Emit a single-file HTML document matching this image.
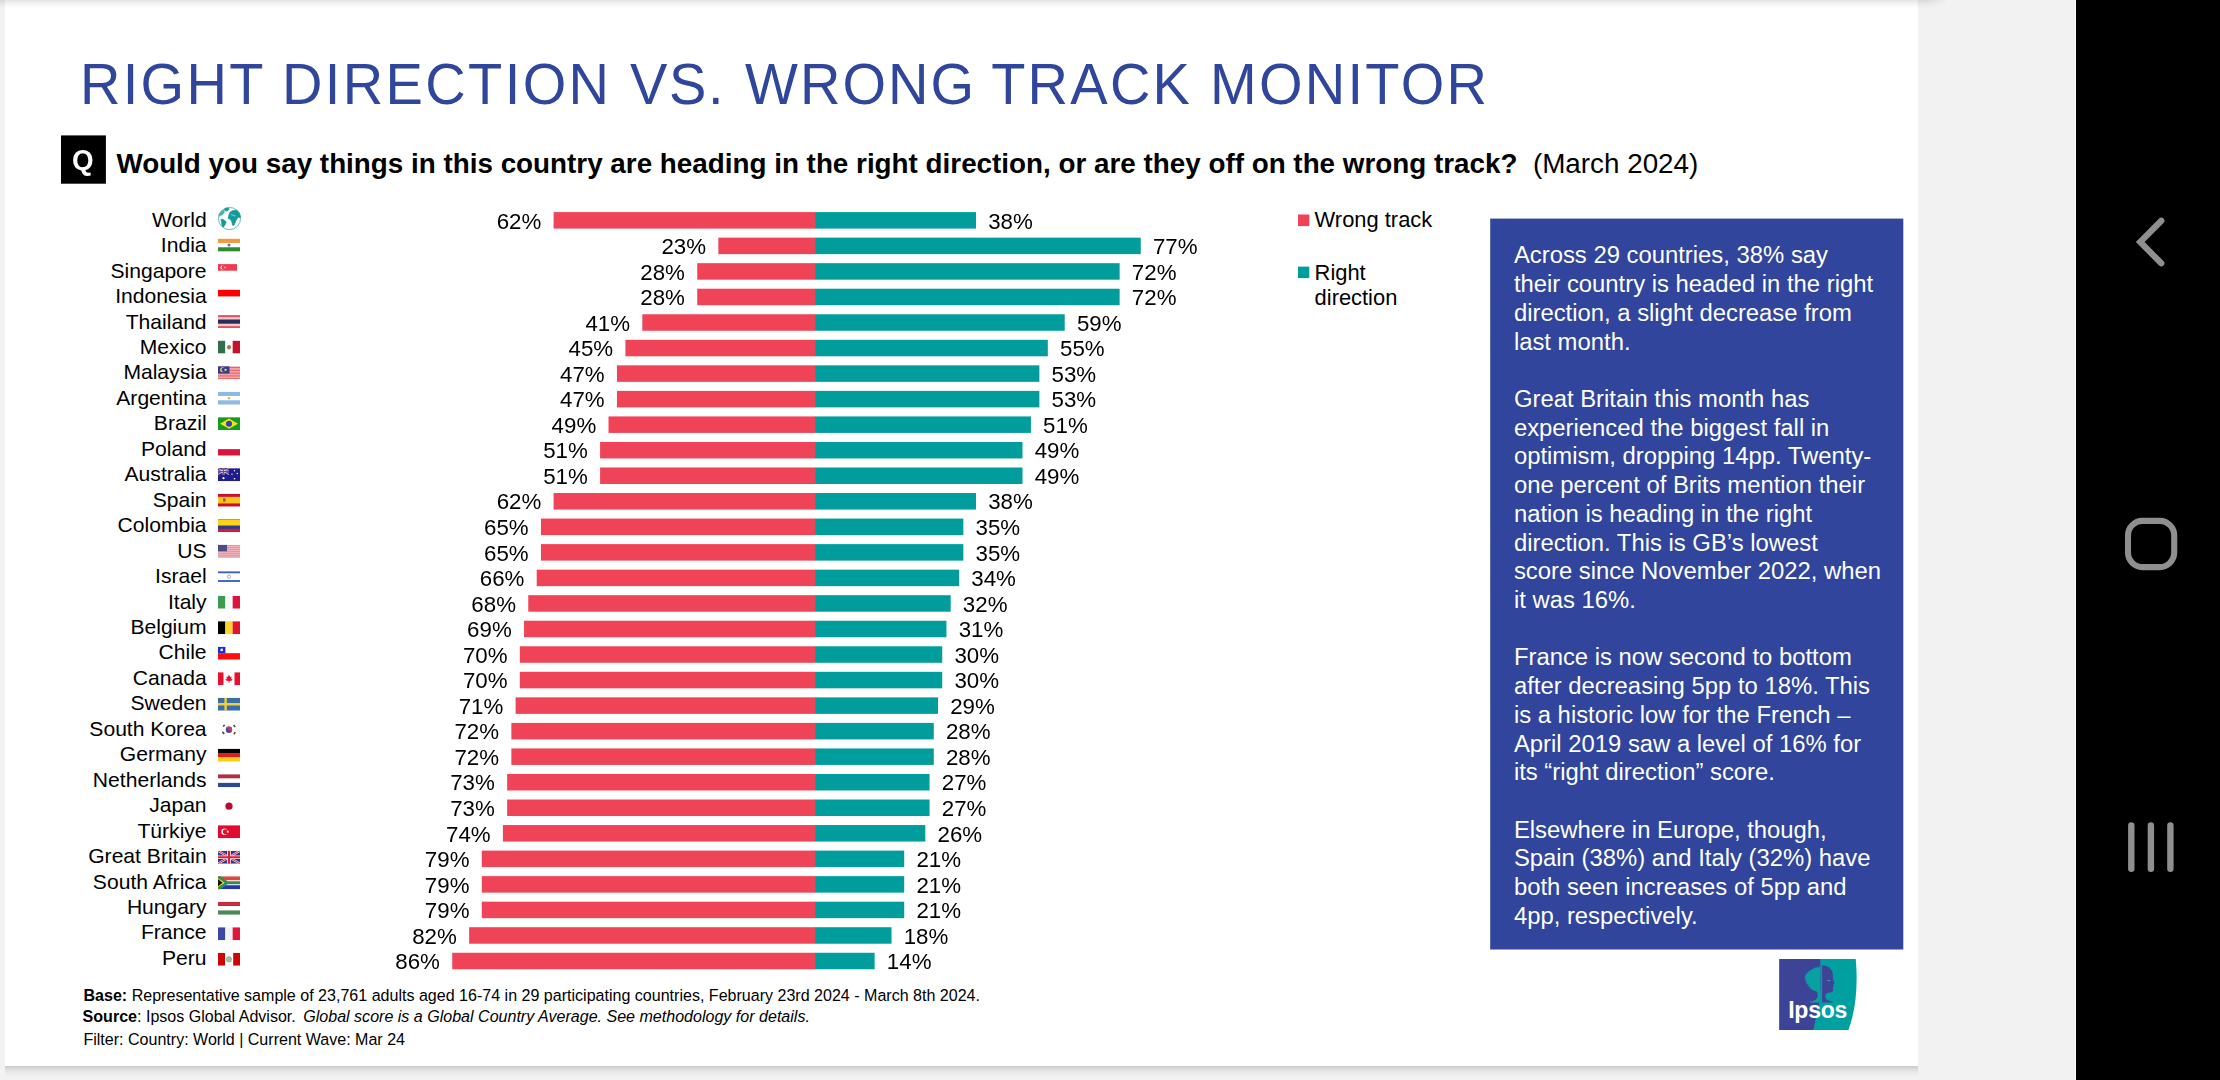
<!DOCTYPE html>
<html lang="en">
<head>
<meta charset="utf-8">
<title>Right Direction vs. Wrong Track Monitor</title>
<style>
html,body{margin:0;padding:0}
body{width:2220px;height:1080px;position:relative;overflow:hidden;background:#f2f2f2;font-family:"Liberation Sans",Arial,sans-serif;color:#000}
.page{position:absolute;left:5px;top:0;width:1913px;height:1066px;background:#fff}
.botsh{position:absolute;left:5px;top:1066px;width:1913px;height:11px;background:linear-gradient(#cacaca,#d6d6d6 18%,#e2e2e2 40%,#ececec 68%,#f2f2f2)}
.topsh{position:absolute;left:0;top:0;width:1950px;height:10px;background:linear-gradient(rgba(0,0,0,.105),rgba(0,0,0,.045) 35%,rgba(0,0,0,.012) 70%,rgba(0,0,0,0));-webkit-mask-image:linear-gradient(to right,#000 0,#000 1926px,transparent 1948px);mask-image:linear-gradient(to right,#000 0,#000 1926px,transparent 1948px)}
.navbar{position:absolute;left:2076px;top:0;width:144px;height:1080px;background:#000;box-shadow:-1px 0 0 #fff}
.nav{position:absolute;left:0;top:0}
.t{position:absolute;white-space:nowrap;margin:0}
.title{position:absolute;left:0;margin:0;width:1900px;height:67px;font-size:56px;line-height:67px;font-weight:400;color:#2f469c;white-space:nowrap}
.title span{position:absolute;top:0}
.qq{color:#fff;font-weight:700}
.bars{position:absolute;left:0;top:0}
.w{fill:#ef4357}
.r{fill:#009d9c}
.fl{position:absolute;display:block}
.panel{position:absolute;left:1490px;top:219px;width:413px;height:731px}
.ptxt{position:absolute;left:23.9px;color:#fff;white-space:nowrap}
.ptxt p{margin:0 0 28.72px 0}
.logo{position:absolute;left:1779px;top:958.8px}
</style>
</head>
<body>
<div class="page"></div>
<div class="botsh"></div>
<div class="topsh"></div>
<h1 class="title" style="top:51.40px;transform:scaleY(1.04);transform-origin:0 52.90px"><span style="left:79.88px;letter-spacing:2.33px">RIGHT</span> <span style="left:281.98px;letter-spacing:2.38px">DIRECTION</span> <span style="left:630.02px;letter-spacing:1.66px">VS.</span> <span style="left:745.12px;letter-spacing:2.0px">WRONG</span> <span style="left:991.14px;letter-spacing:2.25px">TRACK</span> <span style="left:1209.98px;letter-spacing:2.28px">MONITOR</span></h1>
<svg class="bars" width="2076" height="1080" viewBox="0 0 2076 1080">
<rect class="w" x="553.61" y="212.10" width="262.49" height="16.5"/><rect class="r" x="815.50" y="212.10" width="160.51" height="16.5"/>
<rect class="w" x="718.35" y="237.64" width="97.75" height="16.5"/><rect class="r" x="815.50" y="237.64" width="325.25" height="16.5"/>
<rect class="w" x="697.23" y="263.18" width="118.87" height="16.5"/><rect class="r" x="815.50" y="263.18" width="304.13" height="16.5"/>
<rect class="w" x="697.23" y="288.72" width="118.87" height="16.5"/><rect class="r" x="815.50" y="288.72" width="304.13" height="16.5"/>
<rect class="w" x="642.32" y="314.26" width="173.78" height="16.5"/><rect class="r" x="815.50" y="314.26" width="249.22" height="16.5"/>
<rect class="w" x="625.42" y="339.80" width="190.68" height="16.5"/><rect class="r" x="815.50" y="339.80" width="232.32" height="16.5"/>
<rect class="w" x="616.97" y="365.34" width="199.13" height="16.5"/><rect class="r" x="815.50" y="365.34" width="223.87" height="16.5"/>
<rect class="w" x="616.97" y="390.88" width="199.13" height="16.5"/><rect class="r" x="815.50" y="390.88" width="223.87" height="16.5"/>
<rect class="w" x="608.52" y="416.42" width="207.58" height="16.5"/><rect class="r" x="815.50" y="416.42" width="215.42" height="16.5"/>
<rect class="w" x="600.08" y="441.96" width="216.02" height="16.5"/><rect class="r" x="815.50" y="441.96" width="206.98" height="16.5"/>
<rect class="w" x="600.08" y="467.50" width="216.02" height="16.5"/><rect class="r" x="815.50" y="467.50" width="206.98" height="16.5"/>
<rect class="w" x="553.61" y="493.04" width="262.49" height="16.5"/><rect class="r" x="815.50" y="493.04" width="160.51" height="16.5"/>
<rect class="w" x="540.94" y="518.58" width="275.16" height="16.5"/><rect class="r" x="815.50" y="518.58" width="147.84" height="16.5"/>
<rect class="w" x="540.94" y="544.12" width="275.16" height="16.5"/><rect class="r" x="815.50" y="544.12" width="147.84" height="16.5"/>
<rect class="w" x="536.72" y="569.66" width="279.38" height="16.5"/><rect class="r" x="815.50" y="569.66" width="143.62" height="16.5"/>
<rect class="w" x="528.27" y="595.20" width="287.83" height="16.5"/><rect class="r" x="815.50" y="595.20" width="135.17" height="16.5"/>
<rect class="w" x="524.04" y="620.74" width="292.06" height="16.5"/><rect class="r" x="815.50" y="620.74" width="130.94" height="16.5"/>
<rect class="w" x="519.82" y="646.28" width="296.28" height="16.5"/><rect class="r" x="815.50" y="646.28" width="126.72" height="16.5"/>
<rect class="w" x="519.82" y="671.82" width="296.28" height="16.5"/><rect class="r" x="815.50" y="671.82" width="126.72" height="16.5"/>
<rect class="w" x="515.60" y="697.36" width="300.50" height="16.5"/><rect class="r" x="815.50" y="697.36" width="122.50" height="16.5"/>
<rect class="w" x="511.37" y="722.90" width="304.73" height="16.5"/><rect class="r" x="815.50" y="722.90" width="118.27" height="16.5"/>
<rect class="w" x="511.37" y="748.44" width="304.73" height="16.5"/><rect class="r" x="815.50" y="748.44" width="118.27" height="16.5"/>
<rect class="w" x="507.15" y="773.98" width="308.95" height="16.5"/><rect class="r" x="815.50" y="773.98" width="114.05" height="16.5"/>
<rect class="w" x="507.15" y="799.52" width="308.95" height="16.5"/><rect class="r" x="815.50" y="799.52" width="114.05" height="16.5"/>
<rect class="w" x="502.92" y="825.06" width="313.18" height="16.5"/><rect class="r" x="815.50" y="825.06" width="109.82" height="16.5"/>
<rect class="w" x="481.80" y="850.60" width="334.30" height="16.5"/><rect class="r" x="815.50" y="850.60" width="88.70" height="16.5"/>
<rect class="w" x="481.80" y="876.14" width="334.30" height="16.5"/><rect class="r" x="815.50" y="876.14" width="88.70" height="16.5"/>
<rect class="w" x="481.80" y="901.68" width="334.30" height="16.5"/><rect class="r" x="815.50" y="901.68" width="88.70" height="16.5"/>
<rect class="w" x="469.13" y="927.22" width="346.97" height="16.5"/><rect class="r" x="815.50" y="927.22" width="76.03" height="16.5"/>
<rect class="w" x="452.24" y="952.76" width="363.86" height="16.5"/><rect class="r" x="815.50" y="952.76" width="59.14" height="16.5"/>
<rect x="1490.2" y="218.6" width="413.1" height="730.9" fill="#30459b"/><rect x="61" y="135.4" width="44.9" height="48.3" fill="#000"/><rect class="w" x="1298" y="214.5" width="11.3" height="11.6"/><rect class="r" x="1298" y="266.6" width="11.3" height="11.5"/>
<svg x="210" y="200" width="40" height="40" viewBox="0 0 40 40"><circle cx="19.5" cy="18.5" r="11.1" fill="#fff" stroke="#5fb3b1" stroke-width="0.9"/><g fill="#139b99" stroke="#139b99" stroke-width="0.7" stroke-linejoin="round"><path d="M14.4 9.3L16.3 8.1L19.2 8.4L18.1 10.4L16.3 11.1L14.8 10.6Z"/><path d="M10.9 19.4L13 19.3L16.2 21.9L15.5 24.1L13.3 27.2L12 25.8L11.6 22.2Z"/><path d="M20 12.2L23 10.5L26.6 10.3L29.2 12.6L30.5 17.2L29.6 17.7L28.1 17L25.9 20.7L24.1 25.1L22.7 25.5L21.9 22.2L20.7 19.6L18.2 18.5L18.6 15.9Z"/></g><path d="M9.4 16.2L9 14.8L10.7 11.9L13.7 10.1L14.3 12.2L12.6 14.4L10.7 15.6Z" fill="#44b1af" stroke="#44b1af" stroke-width="0.7" stroke-linejoin="round"/><path d="M21.5 14.6L25 15.8" stroke="#5fc9c6" stroke-width="1.3" stroke-linecap="round" fill="none"/></svg>
<svg x="218" y="238.60" width="22" height="13" viewBox="0 0 22 13" preserveAspectRatio="none"><rect x="0" y="0.000" width="22" height="4.383" fill="#f09a40"/><rect x="0" y="4.333" width="22" height="4.383" fill="#ffffff"/><rect x="0" y="8.667" width="22" height="4.383" fill="#2e8b2e"/><circle cx="11" cy="6.5" r="1.5" fill="#6a6fc0"/></svg>
<svg x="218" y="264.11" width="22" height="13" viewBox="0 0 22 13" preserveAspectRatio="none"><rect width="19" height="6.6" fill="#ef3b4e"/><circle cx="4.4" cy="3.3" r="2" fill="#fff"/><circle cx="5.3" cy="3.3" r="1.8" fill="#ef3b4e"/><circle cx="7" cy="3.3" r="1" fill="#f7a3ad"/></svg>
<svg x="218" y="289.62" width="22" height="13" viewBox="0 0 22 13" preserveAspectRatio="none"><rect width="22" height="6.8" fill="#ff0000"/></svg>
<svg x="218" y="315.12" width="22" height="13" viewBox="0 0 22 13" preserveAspectRatio="none"><rect width="22" height="13" fill="#e5525c"/><rect y="2" width="22" height="9" fill="#f6c9cd"/><rect y="4.4" width="22" height="4.2" fill="#2b2a5c"/></svg>
<svg x="218" y="340.62" width="22" height="13" viewBox="0 0 22 13" preserveAspectRatio="none"><rect x="0.000" y="0" width="7.383" height="13" fill="#2f6f4c"/><rect x="7.333" y="0" width="7.383" height="13" fill="#ffffff"/><rect x="14.667" y="0" width="7.383" height="13" fill="#c4122f"/><ellipse cx="11" cy="6.6" rx="2" ry="2.3" fill="#9b7a4a"/></svg>
<svg x="218" y="366.13" width="22" height="13" viewBox="0 0 22 13" preserveAspectRatio="none"><rect width="22" height="13" fill="#f3a6a8"/><path d="M0 1.4H22M0 4.2H22M0 7H22M0 9.8H22M0 12.5H22" stroke="#e9606a" stroke-width="1"/><rect width="11.5" height="7.4" fill="#2f3c8f"/><circle cx="4.6" cy="3.7" r="2.5" fill="#f6d23a"/><circle cx="5.6" cy="3.7" r="2.1" fill="#2f3c8f"/><circle cx="7.6" cy="3.7" r="1.2" fill="#f6d23a"/></svg>
<svg x="218" y="391.63" width="22" height="13" viewBox="0 0 22 13" preserveAspectRatio="none"><rect x="0" y="0.000" width="22" height="4.383" fill="#8db9e6"/><rect x="0" y="4.333" width="22" height="4.383" fill="#ffffff"/><rect x="0" y="8.667" width="22" height="4.383" fill="#8db9e6"/><circle cx="11" cy="6.5" r="1.2" fill="#e8b04a"/></svg>
<svg x="218" y="417.14" width="22" height="13" viewBox="0 0 22 13" preserveAspectRatio="none"><rect width="22" height="13" fill="#169b1e"/><path d="M11 1.4L20 6.5L11 11.6L2 6.5Z" fill="#f8e016"/><circle cx="11" cy="6.5" r="3" fill="#2b3fc0"/></svg>
<svg x="218" y="442.64" width="22" height="13" viewBox="0 0 22 13" preserveAspectRatio="none"><rect y="6.5" width="22" height="6.5" fill="#dc143c"/></svg>
<svg x="218" y="468.15" width="22" height="13" viewBox="0 0 22 13" preserveAspectRatio="none"><rect width="22" height="13" fill="#1d1d8f"/><g transform="scale(0.5)"><rect width="22" height="13" fill="#1d1d8f"/><path d="M0 0L22 13M22 0L0 13" stroke="#f3e6ee" stroke-width="2.1"/><path d="M0 0L22 13M22 0L0 13" stroke="#d8213a" stroke-width="1"/><path d="M11 0V13M0 6.5H22" stroke="#f6eaf0" stroke-width="3.7"/><path d="M11 0V13M0 6.5H22" stroke="#d8213a" stroke-width="2.1"/></g><circle cx="5.5" cy="10" r="1.1" fill="#fff"/><circle cx="16.5" cy="2.6" r=".7" fill="#fff"/><circle cx="19.3" cy="5.4" r=".7" fill="#fff"/><circle cx="14" cy="6" r=".7" fill="#fff"/><circle cx="16.5" cy="10.6" r=".8" fill="#fff"/></svg>
<svg x="218" y="493.65" width="22" height="13" viewBox="0 0 22 13" preserveAspectRatio="none"><rect width="22" height="13" fill="#c8102e"/><rect y="3.2" width="22" height="6.6" fill="#fcc419"/><rect x="5" y="4.6" width="2.6" height="3.6" rx=".8" fill="#9a5b3a"/></svg>
<svg x="218" y="519.16" width="22" height="13" viewBox="0 0 22 13" preserveAspectRatio="none"><rect width="22" height="13" fill="#c8213a"/><rect width="22" height="9.6" fill="#2a3a8c"/><rect width="22" height="6.4" fill="#fcd116"/></svg>
<svg x="218" y="544.66" width="22" height="13" viewBox="0 0 22 13" preserveAspectRatio="none"><rect width="22" height="13" fill="#f1b9bf"/><path d="M0 1H22M0 3H22M0 5H22M0 7H22M0 9H22M0 11H22M0 12.6H22" stroke="#e68a96" stroke-width=".9"/><rect width="9" height="6.6" fill="#4a4c86"/></svg>
<svg x="218" y="570.17" width="22" height="13" viewBox="0 0 22 13" preserveAspectRatio="none"><rect width="22" height="13" fill="#fff"/><rect y="1.2" width="22" height="1.9" fill="#3a62c8"/><rect y="9.9" width="22" height="1.9" fill="#3a62c8"/><circle cx="11" cy="6.5" r="1.6" fill="none" stroke="#7d9be0" stroke-width=".8"/></svg>
<svg x="218" y="595.67" width="22" height="13" viewBox="0 0 22 13" preserveAspectRatio="none"><rect x="0.000" y="0" width="7.383" height="13" fill="#3c9b4e"/><rect x="7.333" y="0" width="7.383" height="13" fill="#f7f7f7"/><rect x="14.667" y="0" width="7.383" height="13" fill="#dc143c"/></svg>
<svg x="218" y="621.18" width="22" height="13" viewBox="0 0 22 13" preserveAspectRatio="none"><rect x="0.000" y="0" width="7.383" height="13" fill="#000000"/><rect x="7.333" y="0" width="7.383" height="13" fill="#fad42e"/><rect x="14.667" y="0" width="7.383" height="13" fill="#e2132f"/></svg>
<svg x="218" y="646.68" width="22" height="13" viewBox="0 0 22 13" preserveAspectRatio="none"><rect y="6.5" width="22" height="6.5" fill="#ff0c0c"/><rect width="7.4" height="6.5" fill="#1a2bd8"/><circle cx="3.7" cy="3.2" r="1.3" fill="#fff"/></svg>
<svg x="218" y="672.19" width="22" height="13" viewBox="0 0 22 13" preserveAspectRatio="none"><rect width="5.5" height="13" fill="#e8112d"/><rect x="16.5" width="5.5" height="13" fill="#e8112d"/><path d="M11 2.4L12.2 4.8L13.6 4.3L13.2 7L14.6 6.6L14 8.4L11.4 8.9V10.6H10.6V8.9L8 8.4L7.4 6.6L8.8 7L8.4 4.3L9.8 4.8Z" fill="#e8112d"/></svg>
<svg x="218" y="697.69" width="22" height="13" viewBox="0 0 22 13" preserveAspectRatio="none"><rect width="22" height="13" fill="#3a6ea8"/><path d="M7.6 0V13M0 6.5H22" stroke="#f2cf3a" stroke-width="2.4"/></svg>
<svg x="218" y="723.20" width="22" height="13" viewBox="0 0 22 13" preserveAspectRatio="none"><path d="M11 3.3a3.2 3.2 0 0 1 0 6.4a3.2 3.2 0 0 1 0-6.4" fill="#3b4aa8"/><path d="M7.8 6.5a3.2 3.2 0 0 1 6.4 0a1.6 1.6 0 0 1-3.2 0a1.6 1.6 0 0 0-3.2 0" fill="#e0334a"/><path d="M5.2 3.4L6.6 1.6M4.4 8.6L6.2 10.8M15.6 1.8L17.2 3.8M15.8 11L17.4 9" stroke="#444" stroke-width="1.5"/></svg>
<svg x="218" y="748.71" width="22" height="13" viewBox="0 0 22 13" preserveAspectRatio="none"><rect x="0" y="0.000" width="22" height="4.383" fill="#000000"/><rect x="0" y="4.333" width="22" height="4.383" fill="#e21b1b"/><rect x="0" y="8.667" width="22" height="4.383" fill="#fbcf17"/></svg>
<svg x="218" y="774.21" width="22" height="13" viewBox="0 0 22 13" preserveAspectRatio="none"><rect x="0" y="0.000" width="22" height="4.383" fill="#b0303c"/><rect x="0" y="4.333" width="22" height="4.383" fill="#ffffff"/><rect x="0" y="8.667" width="22" height="4.383" fill="#2c4b90"/></svg>
<svg x="218" y="799.72" width="22" height="13" viewBox="0 0 22 13" preserveAspectRatio="none"><circle cx="11" cy="6.5" r="3.6" fill="#bc0a2e"/></svg>
<svg x="218" y="825.22" width="22" height="13" viewBox="0 0 22 13" preserveAspectRatio="none"><rect width="22" height="13" fill="#e20a2e"/><circle cx="6.4" cy="6.5" r="3.1" fill="#fff"/><circle cx="7.4" cy="6.5" r="2.5" fill="#e20a2e"/><circle cx="9.8" cy="6.5" r="1.1" fill="#fff"/></svg>
<svg x="218" y="850.73" width="22" height="13" viewBox="0 0 22 13" preserveAspectRatio="none"><rect width="22" height="13" fill="#2b3a8c"/><path d="M0 0L22 13M22 0L0 13" stroke="#f3e6ee" stroke-width="2.1"/><path d="M0 0L22 13M22 0L0 13" stroke="#d8213a" stroke-width="1"/><path d="M11 0V13M0 6.5H22" stroke="#f6eaf0" stroke-width="3.7"/><path d="M11 0V13M0 6.5H22" stroke="#d8213a" stroke-width="2.1"/></svg>
<svg x="218" y="876.23" width="22" height="13" viewBox="0 0 22 13" preserveAspectRatio="none"><rect width="22" height="13" fill="#fff"/><rect width="22" height="4" fill="#e0453e"/><rect y="9" width="22" height="4" fill="#2433b8"/><path d="M0 0L9 6.5L0 13M9 6.5H22" fill="none" stroke="#2f8f4e" stroke-width="3"/><path d="M0 1.8L6.2 6.5L0 11.2Z" fill="#f2c230"/><path d="M0 3L4.6 6.5L0 10Z" fill="#111"/></svg>
<svg x="218" y="901.74" width="22" height="13" viewBox="0 0 22 13" preserveAspectRatio="none"><rect x="0" y="0.000" width="22" height="4.383" fill="#cd2a3e"/><rect x="0" y="4.333" width="22" height="4.383" fill="#ffffff"/><rect x="0" y="8.667" width="22" height="4.383" fill="#4a8a54"/></svg>
<svg x="218" y="927.24" width="22" height="13" viewBox="0 0 22 13" preserveAspectRatio="none"><rect x="0.000" y="0" width="7.383" height="13" fill="#3b47a3"/><rect x="7.333" y="0" width="7.383" height="13" fill="#f2f2f4"/><rect x="14.667" y="0" width="7.383" height="13" fill="#e2163a"/></svg>
<svg x="218" y="952.75" width="22" height="13" viewBox="0 0 22 13" preserveAspectRatio="none"><rect x="0.000" y="0" width="7.050" height="13" fill="#cd0505"/><rect x="7.000" y="0" width="8.250" height="13" fill="#ffffff"/><rect x="15.200" y="0" width="6.850" height="13" fill="#cd0505"/><ellipse cx="11" cy="6.6" rx="2.9" ry="3.2" fill="#a3b89a"/><circle cx="11" cy="6.9" r="1.3" fill="#c9b48a"/></svg>
</svg>
<div class="t c" style="right:2013.40px;top:207px;font-size:21.1px;line-height:25px;">World</div>
<div class="t p" style="right:1678.69px;top:208px;font-size:22.3px;line-height:27px;transform:scaleY(1.02);transform-origin:0 21px;">62%</div>
<div class="t p" style="left:988.21px;top:208px;font-size:22.3px;line-height:27px;transform:scaleY(1.02);transform-origin:0 21px;">38%</div>
<div class="t c" style="right:2013.40px;top:232px;font-size:21.1px;line-height:25px;">India</div>
<div class="t p" style="right:1513.95px;top:233px;font-size:22.3px;line-height:27px;transform:scaleY(1.02);transform-origin:0 21px;">23%</div>
<div class="t p" style="left:1152.95px;top:233px;font-size:22.3px;line-height:27px;transform:scaleY(1.02);transform-origin:0 21px;">77%</div>
<div class="t c" style="right:2013.40px;top:258px;font-size:21.1px;line-height:25px;">Singapore</div>
<div class="t p" style="right:1535.07px;top:259px;font-size:22.3px;line-height:27px;transform:scaleY(1.02);transform-origin:0 21px;">28%</div>
<div class="t p" style="left:1131.83px;top:259px;font-size:22.3px;line-height:27px;transform:scaleY(1.02);transform-origin:0 21px;">72%</div>
<div class="t c" style="right:2013.40px;top:283px;font-size:21.1px;line-height:25px;">Indonesia</div>
<div class="t p" style="right:1535.07px;top:284px;font-size:22.3px;line-height:27px;transform:scaleY(1.02);transform-origin:0 21px;">28%</div>
<div class="t p" style="left:1131.83px;top:284px;font-size:22.3px;line-height:27px;transform:scaleY(1.02);transform-origin:0 21px;">72%</div>
<div class="t c" style="right:2013.40px;top:309px;font-size:21.1px;line-height:25px;">Thailand</div>
<div class="t p" style="right:1589.98px;top:310px;font-size:22.3px;line-height:27px;transform:scaleY(1.02);transform-origin:0 21px;">41%</div>
<div class="t p" style="left:1076.92px;top:310px;font-size:22.3px;line-height:27px;transform:scaleY(1.02);transform-origin:0 21px;">59%</div>
<div class="t c" style="right:2013.40px;top:334px;font-size:21.1px;line-height:25px;">Mexico</div>
<div class="t p" style="right:1606.88px;top:335px;font-size:22.3px;line-height:27px;transform:scaleY(1.02);transform-origin:0 21px;">45%</div>
<div class="t p" style="left:1060.02px;top:335px;font-size:22.3px;line-height:27px;transform:scaleY(1.02);transform-origin:0 21px;">55%</div>
<div class="t c" style="right:2013.40px;top:359px;font-size:21.1px;line-height:25px;">Malaysia</div>
<div class="t p" style="right:1615.33px;top:361px;font-size:22.3px;line-height:27px;transform:scaleY(1.02);transform-origin:0 21px;">47%</div>
<div class="t p" style="left:1051.57px;top:361px;font-size:22.3px;line-height:27px;transform:scaleY(1.02);transform-origin:0 21px;">53%</div>
<div class="t c" style="right:2013.40px;top:385px;font-size:21.1px;line-height:25px;">Argentina</div>
<div class="t p" style="right:1615.33px;top:386px;font-size:22.3px;line-height:27px;transform:scaleY(1.02);transform-origin:0 21px;">47%</div>
<div class="t p" style="left:1051.57px;top:386px;font-size:22.3px;line-height:27px;transform:scaleY(1.02);transform-origin:0 21px;">53%</div>
<div class="t c" style="right:2013.40px;top:410px;font-size:21.1px;line-height:25px;">Brazil</div>
<div class="t p" style="right:1623.78px;top:412px;font-size:22.3px;line-height:27px;transform:scaleY(1.02);transform-origin:0 21px;">49%</div>
<div class="t p" style="left:1043.12px;top:412px;font-size:22.3px;line-height:27px;transform:scaleY(1.02);transform-origin:0 21px;">51%</div>
<div class="t c" style="right:2013.40px;top:436px;font-size:21.1px;line-height:25px;">Poland</div>
<div class="t p" style="right:1632.22px;top:437px;font-size:22.3px;line-height:27px;transform:scaleY(1.02);transform-origin:0 21px;">51%</div>
<div class="t p" style="left:1034.68px;top:437px;font-size:22.3px;line-height:27px;transform:scaleY(1.02);transform-origin:0 21px;">49%</div>
<div class="t c" style="right:2013.40px;top:461px;font-size:21.1px;line-height:25px;">Australia</div>
<div class="t p" style="right:1632.22px;top:463px;font-size:22.3px;line-height:27px;transform:scaleY(1.02);transform-origin:0 21px;">51%</div>
<div class="t p" style="left:1034.68px;top:463px;font-size:22.3px;line-height:27px;transform:scaleY(1.02);transform-origin:0 21px;">49%</div>
<div class="t c" style="right:2013.40px;top:487px;font-size:21.1px;line-height:25px;">Spain</div>
<div class="t p" style="right:1678.69px;top:488px;font-size:22.3px;line-height:27px;transform:scaleY(1.02);transform-origin:0 21px;">62%</div>
<div class="t p" style="left:988.21px;top:488px;font-size:22.3px;line-height:27px;transform:scaleY(1.02);transform-origin:0 21px;">38%</div>
<div class="t c" style="right:2013.40px;top:512px;font-size:21.1px;line-height:25px;">Colombia</div>
<div class="t p" style="right:1691.36px;top:514px;font-size:22.3px;line-height:27px;transform:scaleY(1.02);transform-origin:0 21px;">65%</div>
<div class="t p" style="left:975.54px;top:514px;font-size:22.3px;line-height:27px;transform:scaleY(1.02);transform-origin:0 21px;">35%</div>
<div class="t c" style="right:2013.40px;top:538px;font-size:21.1px;line-height:25px;">US</div>
<div class="t p" style="right:1691.36px;top:540px;font-size:22.3px;line-height:27px;transform:scaleY(1.02);transform-origin:0 21px;">65%</div>
<div class="t p" style="left:975.54px;top:540px;font-size:22.3px;line-height:27px;transform:scaleY(1.02);transform-origin:0 21px;">35%</div>
<div class="t c" style="right:2013.40px;top:563px;font-size:21.1px;line-height:25px;">Israel</div>
<div class="t p" style="right:1695.58px;top:565px;font-size:22.3px;line-height:27px;transform:scaleY(1.02);transform-origin:0 21px;">66%</div>
<div class="t p" style="left:971.32px;top:565px;font-size:22.3px;line-height:27px;transform:scaleY(1.02);transform-origin:0 21px;">34%</div>
<div class="t c" style="right:2013.40px;top:589px;font-size:21.1px;line-height:25px;">Italy</div>
<div class="t p" style="right:1704.03px;top:591px;font-size:22.3px;line-height:27px;transform:scaleY(1.02);transform-origin:0 21px;">68%</div>
<div class="t p" style="left:962.87px;top:591px;font-size:22.3px;line-height:27px;transform:scaleY(1.02);transform-origin:0 21px;">32%</div>
<div class="t c" style="right:2013.40px;top:614px;font-size:21.1px;line-height:25px;">Belgium</div>
<div class="t p" style="right:1708.26px;top:616px;font-size:22.3px;line-height:27px;transform:scaleY(1.02);transform-origin:0 21px;">69%</div>
<div class="t p" style="left:958.64px;top:616px;font-size:22.3px;line-height:27px;transform:scaleY(1.02);transform-origin:0 21px;">31%</div>
<div class="t c" style="right:2013.40px;top:639px;font-size:21.1px;line-height:25px;">Chile</div>
<div class="t p" style="right:1712.48px;top:642px;font-size:22.3px;line-height:27px;transform:scaleY(1.02);transform-origin:0 21px;">70%</div>
<div class="t p" style="left:954.42px;top:642px;font-size:22.3px;line-height:27px;transform:scaleY(1.02);transform-origin:0 21px;">30%</div>
<div class="t c" style="right:2013.40px;top:665px;font-size:21.1px;line-height:25px;">Canada</div>
<div class="t p" style="right:1712.48px;top:667px;font-size:22.3px;line-height:27px;transform:scaleY(1.02);transform-origin:0 21px;">70%</div>
<div class="t p" style="left:954.42px;top:667px;font-size:22.3px;line-height:27px;transform:scaleY(1.02);transform-origin:0 21px;">30%</div>
<div class="t c" style="right:2013.40px;top:690px;font-size:21.1px;line-height:25px;">Sweden</div>
<div class="t p" style="right:1716.70px;top:693px;font-size:22.3px;line-height:27px;transform:scaleY(1.02);transform-origin:0 21px;">71%</div>
<div class="t p" style="left:950.20px;top:693px;font-size:22.3px;line-height:27px;transform:scaleY(1.02);transform-origin:0 21px;">29%</div>
<div class="t c" style="right:2013.40px;top:716px;font-size:21.1px;line-height:25px;">South Korea</div>
<div class="t p" style="right:1720.93px;top:718px;font-size:22.3px;line-height:27px;transform:scaleY(1.02);transform-origin:0 21px;">72%</div>
<div class="t p" style="left:945.97px;top:718px;font-size:22.3px;line-height:27px;transform:scaleY(1.02);transform-origin:0 21px;">28%</div>
<div class="t c" style="right:2013.40px;top:741px;font-size:21.1px;line-height:25px;">Germany</div>
<div class="t p" style="right:1720.93px;top:744px;font-size:22.3px;line-height:27px;transform:scaleY(1.02);transform-origin:0 21px;">72%</div>
<div class="t p" style="left:945.97px;top:744px;font-size:22.3px;line-height:27px;transform:scaleY(1.02);transform-origin:0 21px;">28%</div>
<div class="t c" style="right:2013.40px;top:767px;font-size:21.1px;line-height:25px;">Netherlands</div>
<div class="t p" style="right:1725.15px;top:769px;font-size:22.3px;line-height:27px;transform:scaleY(1.02);transform-origin:0 21px;">73%</div>
<div class="t p" style="left:941.75px;top:769px;font-size:22.3px;line-height:27px;transform:scaleY(1.02);transform-origin:0 21px;">27%</div>
<div class="t c" style="right:2013.40px;top:792px;font-size:21.1px;line-height:25px;">Japan</div>
<div class="t p" style="right:1725.15px;top:795px;font-size:22.3px;line-height:27px;transform:scaleY(1.02);transform-origin:0 21px;">73%</div>
<div class="t p" style="left:941.75px;top:795px;font-size:22.3px;line-height:27px;transform:scaleY(1.02);transform-origin:0 21px;">27%</div>
<div class="t c" style="right:2013.40px;top:818px;font-size:21.1px;line-height:25px;">Türkiye</div>
<div class="t p" style="right:1729.38px;top:821px;font-size:22.3px;line-height:27px;transform:scaleY(1.02);transform-origin:0 21px;">74%</div>
<div class="t p" style="left:937.52px;top:821px;font-size:22.3px;line-height:27px;transform:scaleY(1.02);transform-origin:0 21px;">26%</div>
<div class="t c" style="right:2013.40px;top:843px;font-size:21.1px;line-height:25px;">Great Britain</div>
<div class="t p" style="right:1750.50px;top:846px;font-size:22.3px;line-height:27px;transform:scaleY(1.02);transform-origin:0 21px;">79%</div>
<div class="t p" style="left:916.40px;top:846px;font-size:22.3px;line-height:27px;transform:scaleY(1.02);transform-origin:0 21px;">21%</div>
<div class="t c" style="right:2013.40px;top:869px;font-size:21.1px;line-height:25px;">South Africa</div>
<div class="t p" style="right:1750.50px;top:872px;font-size:22.3px;line-height:27px;transform:scaleY(1.02);transform-origin:0 21px;">79%</div>
<div class="t p" style="left:916.40px;top:872px;font-size:22.3px;line-height:27px;transform:scaleY(1.02);transform-origin:0 21px;">21%</div>
<div class="t c" style="right:2013.40px;top:894px;font-size:21.1px;line-height:25px;">Hungary</div>
<div class="t p" style="right:1750.50px;top:897px;font-size:22.3px;line-height:27px;transform:scaleY(1.02);transform-origin:0 21px;">79%</div>
<div class="t p" style="left:916.40px;top:897px;font-size:22.3px;line-height:27px;transform:scaleY(1.02);transform-origin:0 21px;">21%</div>
<div class="t c" style="right:2013.40px;top:919px;font-size:21.1px;line-height:25px;">France</div>
<div class="t p" style="right:1763.17px;top:923px;font-size:22.3px;line-height:27px;transform:scaleY(1.02);transform-origin:0 21px;">82%</div>
<div class="t p" style="left:903.73px;top:923px;font-size:22.3px;line-height:27px;transform:scaleY(1.02);transform-origin:0 21px;">18%</div>
<div class="t c" style="right:2013.40px;top:945px;font-size:21.1px;line-height:25px;">Peru</div>
<div class="t p" style="right:1780.06px;top:948px;font-size:22.3px;line-height:27px;transform:scaleY(1.02);transform-origin:0 21px;">86%</div>
<div class="t p" style="left:886.84px;top:948px;font-size:22.3px;line-height:27px;transform:scaleY(1.02);transform-origin:0 21px;">14%</div>
<div class="t qq" style="left:72.10px;top:144px;font-size:27.8px;line-height:33px;transform:scaleY(1.04);transform-origin:0 26px;">Q</div><div class="t qt" style="left:116.40px;top:147px;font-size:27.82px;line-height:33px;"><b>Would you say things in this country are heading in the right direction, or are they off on the wrong track?</b>&nbsp; (March 2024)</div>
<div class="t lg" style="left:1314.60px;top:206px;font-size:21.9px;line-height:27px;">Wrong track</div><div class="t lg" style="left:1314.60px;top:259px;font-size:21.9px;line-height:27px;">Right</div><div class="t lg" style="left:1314.60px;top:284px;font-size:21.9px;line-height:27px;">direction</div>
<div class="panel"><div class="ptxt" style="top:22.38px;font-size:23.85px;line-height:28.72px"><p>Across 29 countries, 38% say<br>their country is headed in the right<br>direction, a slight decrease from<br>last month.</p><p>Great Britain this month has<br>experienced the biggest fall in<br>optimism, dropping 14pp. Twenty-<br>one percent of Brits mention their<br>nation is heading in the right<br>direction. This is GB’s lowest<br>score since November 2022, when<br>it was 16%.</p><p>France is now second to bottom<br>after decreasing 5pp to 18%. This<br>is a historic low for the French –<br>April 2019 saw a level of 16% for<br>its “right direction” score.</p><p>Elsewhere in Europe, though,<br>Spain (38%) and Italy (32%) have<br>both seen increases of 5pp and<br>4pp, respectively.</p></div></div>
<div class="t ft" style="left:83.50px;top:985px;font-size:16.06px;line-height:20px;"><b>Base:</b> Representative sample of 23,761 adults aged 16-74 in 29 participating countries, February 23rd 2024 - March 8th 2024.</div><div class="t ft" style="left:82.60px;top:1006px;font-size:16.06px;line-height:20px;"><b>Source</b>: Ipsos Global Advisor. <i style="margin-left:3px">Global score is a Global Country Average. See methodology for details.</i></div><div class="t ft" style="left:83.40px;top:1029px;font-size:16.06px;line-height:20px;">Filter: Country: World | Current Wave: Mar 24</div>
<svg class="logo" width="80" height="72" viewBox="0 0 80 72"><path d="M0.3 0H76.7C78.6 20 78.2 48 69.4 71H0.3Z" fill="#00a0a0"/><path d="M0.3 0H41.2C42 16 42 30 40.8 42L34.2 71H0.3Z" fill="#3d4498"/><path d="M41.4 7.4C38.6 7.3 35 8.4 31.4 10.9C27.8 13.4 25.6 15.6 25.7 18.2C25.8 21.6 27.2 25 30.6 28.8C33 31.2 36.4 32 38.4 33C39 35.4 38.8 37.6 38 39.2C36.6 41.4 33.6 42.2 30.8 42.5V43.4H41.4Z" fill="#08a0a1"/><path d="M40 8C36.6 8 33.4 9.4 30.6 11.6C27.4 14 25.9 16 26 18.4C26.2 21.4 27.6 24.6 30.8 28.4" fill="none" stroke="#3d4498" stroke-width="1.3" stroke-dasharray="0.9 1.5"/><path d="M43.1 6.6C46.6 6.3 50.2 7.6 52.2 10.6C53.4 12.6 54 15 54 17.4C54 18.6 53.8 19.6 54 20.6L55.7 24.3L54.2 25.4L54.7 27.3L53.8 28.6L54.2 30.4C54.2 32.4 53 33.6 50.6 33.6C48.8 33.8 47.2 34.4 46.6 35.6C46.2 37 46.2 38.4 46.8 39.6C48 41.4 50.8 42.2 53.6 42.5V43.4H43.1Z" fill="#3d4498"/><ellipse cx="49.8" cy="21.6" rx="1.7" ry="0.6" fill="#2da8b2"/><text x="9.2" y="58.9" font-family="Liberation Sans, sans-serif" font-weight="700" font-size="23" letter-spacing="-0.25" fill="#fff">Ipsos</text></svg>
<div class="navbar"><svg class="nav" width="144" height="1080" viewBox="0 0 144 1080"><path d="M85.3 220.7L64.2 242L85.3 263.3" fill="none" stroke="#8f8f8f" stroke-width="6.2" stroke-linecap="round" stroke-linejoin="miter"/><rect x="52" y="520.9" width="46.2" height="46.2" rx="14.5" fill="none" stroke="#8f8f8f" stroke-width="6.1"/><path d="M55.3 825.4V868.8M74.9 825.4V868.8M94.4 825.4V868.8" fill="none" stroke="#8f8f8f" stroke-width="6.4" stroke-linecap="round"/></svg></div>
</body>
</html>
